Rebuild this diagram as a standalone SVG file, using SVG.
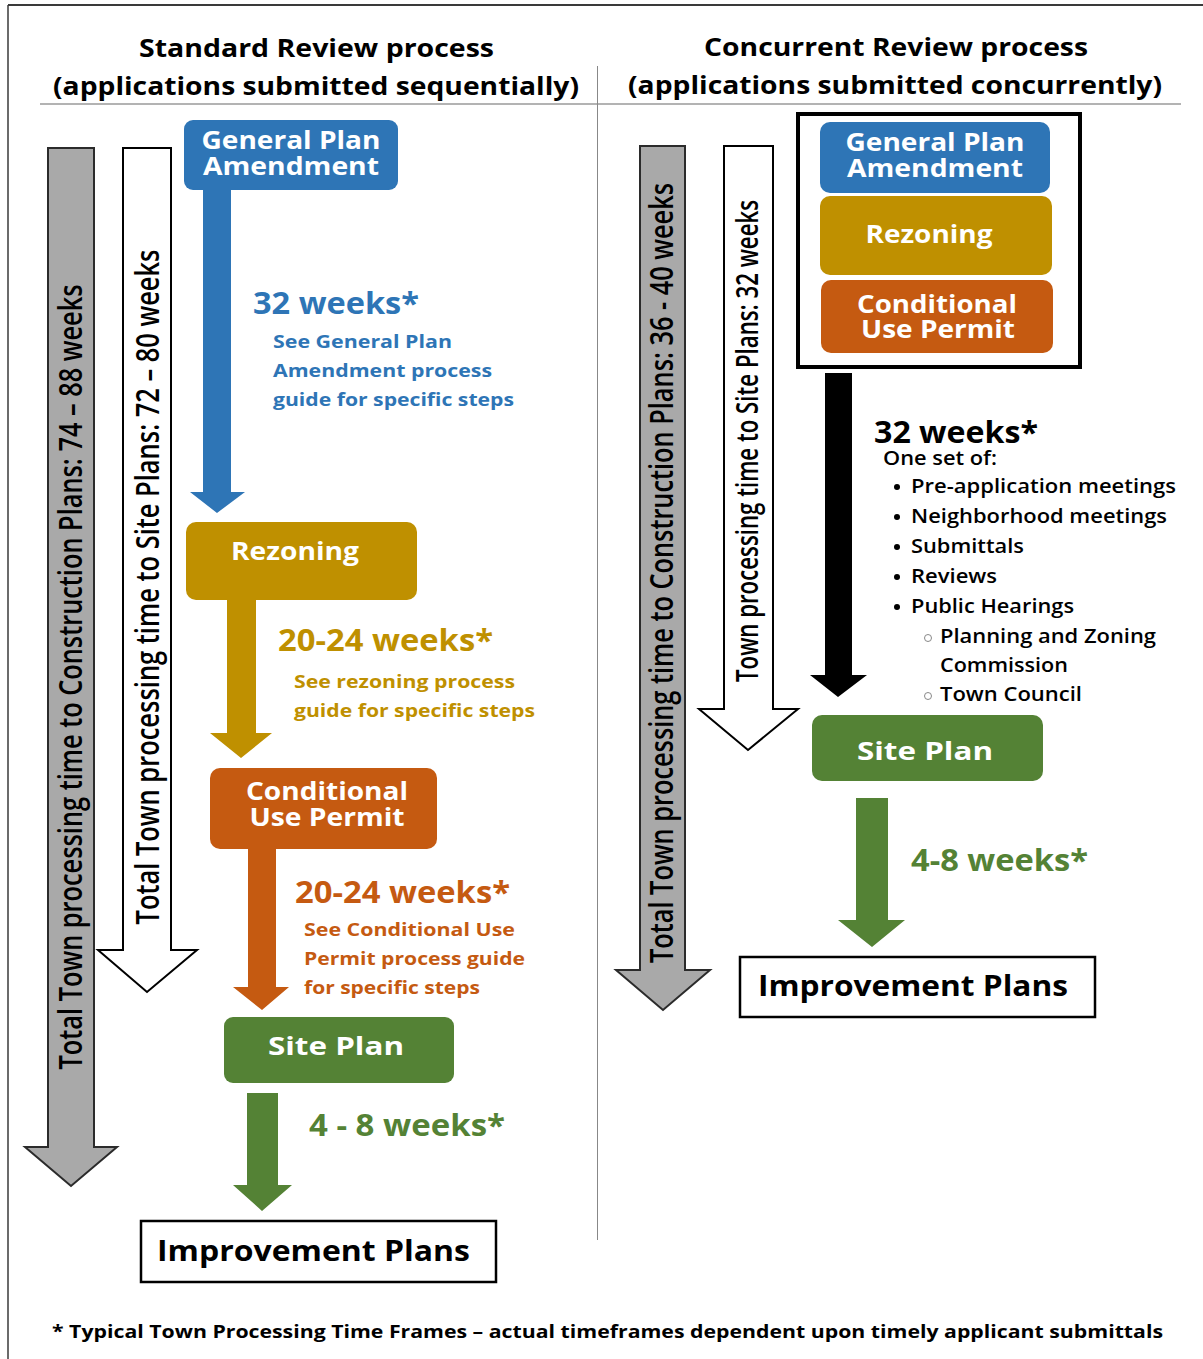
<svg xmlns="http://www.w3.org/2000/svg" width="1203" height="1359" viewBox="0 0 1203 1359">
<style>
text{font-family:"Open Sans","Liberation Sans",sans-serif;}
.h{font-size:25px;font-weight:700;fill:#000;}
.bx{font-size:25px;font-weight:700;fill:#fff;text-anchor:middle;}
.wk{font-size:30px;font-weight:700;}
.sub{font-size:18.5px;font-weight:700;}
.li{font-size:19px;font-weight:600;fill:#000;}
.ip{font-size:29px;font-weight:700;fill:#000;}
.rot{font-weight:600;fill:#000;text-anchor:middle;}
.blue{fill:#2E75B6;} .gold{fill:#BF9000;} .orange{fill:#C55A11;} .green{fill:#548235;}
.gray{fill:#A9A9A9;stroke:#2b2b2b;stroke-width:2;}
.white{fill:#fff;stroke:#000;stroke-width:2;}
.rule{stroke:#9a9a9a;stroke-width:1.5;fill:none;}
</style>
<rect width="1203" height="1359" fill="#fff"/>
<!-- outer frame -->
<line x1="8" y1="5" x2="1203" y2="5" stroke="#3a3a3a" stroke-width="2"/>
<line x1="8" y1="5" x2="8" y2="1359" stroke="#3a3a3a" stroke-width="1.5"/>
<!-- header rules -->
<line class="rule" x1="40" y1="104" x2="1181" y2="104"/>
<line x1="597.5" y1="66" x2="597.5" y2="1240" stroke="#888" stroke-width="1"/>

<g id="headers">
<text class="h" x="139" y="57" textLength="355" lengthAdjust="spacingAndGlyphs">Standard Review process</text>
<text class="h" x="53" y="95" textLength="526" lengthAdjust="spacingAndGlyphs">(applications submitted sequentially)</text>
<text class="h" x="704" y="56" textLength="384" lengthAdjust="spacingAndGlyphs">Concurrent Review process</text>
<text class="h" x="628" y="94" textLength="534" lengthAdjust="spacingAndGlyphs">(applications submitted concurrently)</text>
</g>

<g id="timelines">
<g id="left-total">
<polygon class="gray" points="48,148 94,148 94,1147 117,1147 71,1186 25,1147 48,1147"/>
<text class="rot" font-size="25" transform="translate(82,677) scale(1.33,1) rotate(-90)" textLength="785" lengthAdjust="spacingAndGlyphs">Total Town processing time to Construction Plans: 74 – 88 weeks</text>
</g>
<g id="left-site">
<polygon class="white" points="123,148 171,148 171,950 197,950 147,992 98,950 123,950"/>
<text class="rot" font-size="25" transform="translate(159,587) scale(1.3,1) rotate(-90)" textLength="675" lengthAdjust="spacingAndGlyphs">Total Town processing time to Site Plans: 72 – 80 weeks</text>
</g>
<g id="right-total">
<polygon class="gray" points="640,146 685,146 685,970 710,970 663,1010 616,970 640,970"/>
<text class="rot" font-size="25" transform="translate(673,573) scale(1.3,1) rotate(-90)" textLength="780" lengthAdjust="spacingAndGlyphs">Total Town processing time to Construction Plans: 36 - 40 weeks</text>
</g>
<g id="right-site">
<polygon class="white" points="724,146 773,146 773,709 798,709 748,750 699,709 724,709"/>
<text class="rot" font-size="23" transform="translate(758,441) scale(1.3,1) rotate(-90)" textLength="482" lengthAdjust="spacingAndGlyphs">Town processing time to Site Plans: 32 weeks</text>
</g>
</g>

<g id="connectors">
<polygon class="blue" points="203,190 231,190 231,492 245,492 217,513 190,492 203,492"/>
<polygon class="gold" points="227,600 256,600 256,733 272,733 241,758 210,733 227,733"/>
<polygon class="orange" points="248,849 276,849 276,987 289,987 262,1010 233,987 248,987"/>
<polygon class="green" points="247,1093 278,1093 278,1185 292,1185 262,1211 233,1185 247,1185"/>
<polygon fill="#000" points="825,373 852,373 852,675 867,675 838,697 810,675 825,675"/>
<polygon class="green" points="856,798 888,798 888,920 905,920 872,947 838,920 856,920"/>
</g>

<g id="labels">
<text class="wk blue" x="253" y="314" textLength="166" lengthAdjust="spacingAndGlyphs">32 weeks*</text>
<text class="sub blue" x="273" y="348" textLength="179" lengthAdjust="spacingAndGlyphs">See General Plan</text>
<text class="sub blue" x="273" y="377" textLength="219" lengthAdjust="spacingAndGlyphs">Amendment process</text>
<text class="sub blue" x="273" y="406" textLength="241" lengthAdjust="spacingAndGlyphs">guide for specific steps</text>

<text class="wk gold" x="278" y="651" textLength="215" lengthAdjust="spacingAndGlyphs">20-24 weeks*</text>
<text class="sub gold" x="294" y="688" textLength="221" lengthAdjust="spacingAndGlyphs">See rezoning process</text>
<text class="sub gold" x="294" y="717" textLength="241" lengthAdjust="spacingAndGlyphs">guide for specific steps</text>

<text class="wk orange" x="295" y="903" textLength="215" lengthAdjust="spacingAndGlyphs">20-24 weeks*</text>
<text class="sub orange" x="304" y="936" textLength="211" lengthAdjust="spacingAndGlyphs">See Conditional Use</text>
<text class="sub orange" x="304" y="965" textLength="221" lengthAdjust="spacingAndGlyphs">Permit process guide</text>
<text class="sub orange" x="304" y="994" textLength="176" lengthAdjust="spacingAndGlyphs">for specific steps</text>

<text class="wk green" x="309" y="1136" textLength="196" lengthAdjust="spacingAndGlyphs">4 - 8 weeks*</text>

<text class="wk" fill="#000" x="874" y="443" textLength="164" lengthAdjust="spacingAndGlyphs">32 weeks*</text>
<text class="li" x="883" y="465" textLength="114" lengthAdjust="spacingAndGlyphs">One set of:</text>
<g class="li">
<circle cx="897" cy="487" r="3" fill="#000"/>
<text class="li" x="911" y="493" textLength="265" lengthAdjust="spacingAndGlyphs">Pre-application meetings</text>
<circle cx="897" cy="517" r="3" fill="#000"/>
<text class="li" x="911" y="523" textLength="256" lengthAdjust="spacingAndGlyphs">Neighborhood meetings</text>
<circle cx="897" cy="547" r="3" fill="#000"/>
<text class="li" x="911" y="553" textLength="113" lengthAdjust="spacingAndGlyphs">Submittals</text>
<circle cx="897" cy="577" r="3" fill="#000"/>
<text class="li" x="911" y="583" textLength="86" lengthAdjust="spacingAndGlyphs">Reviews</text>
<circle cx="897" cy="607" r="3" fill="#000"/>
<text class="li" x="911" y="613" textLength="163" lengthAdjust="spacingAndGlyphs">Public Hearings</text>
<circle cx="928" cy="638" r="3.5" fill="none" stroke="#888" stroke-width="1"/>
<text class="li" x="940" y="643" textLength="216" lengthAdjust="spacingAndGlyphs">Planning and Zoning</text>
<text class="li" x="940" y="672" textLength="128" lengthAdjust="spacingAndGlyphs">Commission</text>
<circle cx="928" cy="696" r="3.5" fill="none" stroke="#888" stroke-width="1"/>
<text class="li" x="940" y="701" textLength="142" lengthAdjust="spacingAndGlyphs">Town Council</text>
</g>

<text class="wk green" x="911" y="871" textLength="177" lengthAdjust="spacingAndGlyphs">4-8 weeks*</text>
</g>

<!-- Standard review nodes -->
<g id="std-gpa">
<rect class="blue" x="184" y="120" width="214" height="70" rx="9"/>
<text class="bx" x="291" y="149" textLength="179" lengthAdjust="spacingAndGlyphs">General Plan</text>
<text class="bx" x="291" y="175" textLength="176" lengthAdjust="spacingAndGlyphs">Amendment</text>
</g>
<g id="std-rezoning">
<rect class="gold" x="186" y="522" width="231" height="78" rx="10"/>
<text class="bx" x="295" y="560" textLength="128" lengthAdjust="spacingAndGlyphs">Rezoning</text>
</g>
<g id="std-cup">
<rect class="orange" x="210" y="768" width="227" height="81" rx="10"/>
<text class="bx" x="327" y="800" textLength="162" lengthAdjust="spacingAndGlyphs">Conditional</text>
<text class="bx" x="327" y="826" textLength="155" lengthAdjust="spacingAndGlyphs">Use Permit</text>
</g>
<g id="std-site">
<rect class="green" x="224" y="1017" width="230" height="66" rx="9"/>
<text class="bx" x="336" y="1055" textLength="136" lengthAdjust="spacingAndGlyphs">Site Plan</text>
</g>
<g id="std-improvement">
<rect x="141" y="1221" width="355" height="61" fill="#fff" stroke="#000" stroke-width="2.5"/>
<text class="ip" x="157" y="1261" textLength="313" lengthAdjust="spacingAndGlyphs">Improvement Plans</text>
</g>

<!-- Concurrent review nodes -->
<g id="conc-group">
<rect x="798" y="114" width="282" height="253" fill="none" stroke="#000" stroke-width="4"/>
</g>
<g id="conc-gpa">
<rect class="blue" x="820" y="122" width="230" height="71" rx="10"/>
<text class="bx" x="935" y="151" textLength="179" lengthAdjust="spacingAndGlyphs">General Plan</text>
<text class="bx" x="935" y="177" textLength="176" lengthAdjust="spacingAndGlyphs">Amendment</text>
</g>
<g id="conc-rezoning">
<rect class="gold" x="820" y="196" width="232" height="79" rx="10"/>
<text class="bx" x="929" y="243" textLength="127" lengthAdjust="spacingAndGlyphs">Rezoning</text>
</g>
<g id="conc-cup">
<rect class="orange" x="821" y="280" width="232" height="73" rx="10"/>
<text class="bx" x="937" y="313" textLength="160" lengthAdjust="spacingAndGlyphs">Conditional</text>
<text class="bx" x="938" y="338" textLength="154" lengthAdjust="spacingAndGlyphs">Use Permit</text>
</g>
<g id="conc-site">
<rect class="green" x="812" y="715" width="231" height="66" rx="10"/>
<text class="bx" x="925" y="760" textLength="136" lengthAdjust="spacingAndGlyphs">Site Plan</text>
</g>
<g id="conc-improvement">
<rect x="740" y="957" width="355" height="60" fill="#fff" stroke="#000" stroke-width="2.5"/>
<text class="ip" x="758" y="996" textLength="310" lengthAdjust="spacingAndGlyphs">Improvement Plans</text>
</g>

<g id="footer">
<text x="52" y="1338" font-size="18px" font-weight="700" fill="#000" textLength="1111" lengthAdjust="spacingAndGlyphs">* Typical Town Processing Time Frames – actual timeframes dependent upon timely applicant submittals</text>
</g>
</svg>
